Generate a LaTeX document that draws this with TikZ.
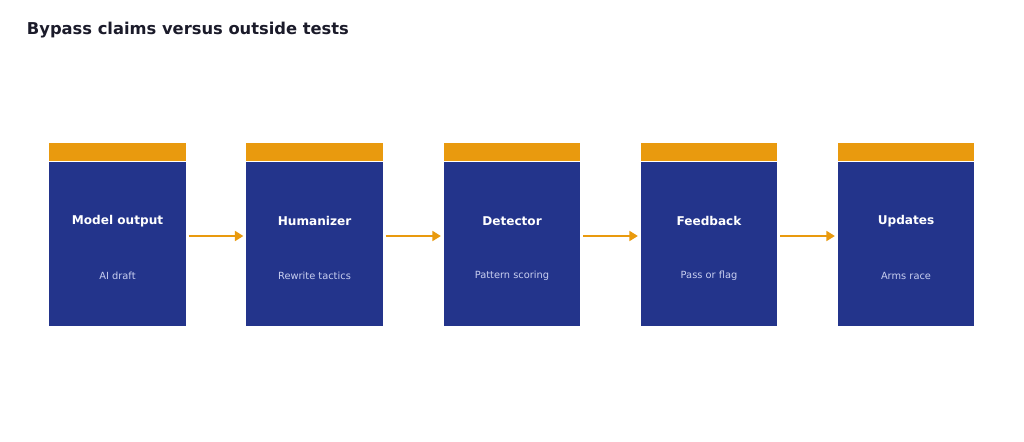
\documentclass[tikz,border=0pt]{standalone}
\usepackage{fontspec}
\setmainfont{DejaVu Sans}
\usetikzlibrary{positioning,arrows.meta}
\definecolor{stageblue}{HTML}{23348B}
\definecolor{stagecap}{HTML}{E99A0E}
\definecolor{titleink}{HTML}{1B1B2A}
\definecolor{subink}{HTML}{C9CFF0}
\tikzset{
  stage/.style={fill=stageblue,draw=none,minimum width=3.4cm,minimum height=4.1cm,inner sep=0pt},
  topband/.style={fill=stagecap,draw=none,minimum width=3.4cm,minimum height=0.45cm,inner sep=0pt},
  head/.style={text=white,font=\bfseries\fontsize{8.6}{10}\selectfont},
  sub/.style={text=subink,font=\fontsize{7}{8}\selectfont},
  flow/.style={draw=stagecap,line width=1.6pt,-{Triangle[length=6pt,width=7pt]}}
}
\begin{document}
\begin{tikzpicture}[x=0.025cm,y=-0.025cm]
\useasboundingbox (0,0) rectangle (1024,441);
\node[anchor=west,text=titleink,font=\bfseries\fontsize{11.6}{14}\selectfont] (title) at (22,30) {Bypass claims versus outside tests};
% stages
\foreach \name/\x/\head/\sub in {s1/117.5/Model output/AI draft,s2/314.5/Humanizer/Rewrite tactics,s3/512/Detector/Pattern scoring,s4/709/Feedback/Pass or flag,s5/906/Updates/Arms race}{
  \node[stage] (\name) at (\x,244) {};
  \node[topband,anchor=south] (\name band) at (\name.north) {};
  \node[head] (\name head) at (\x,221) {\head};
  \node[sub] (\name sub) at (\x,276) {\sub};
}
% connectors
\foreach \a/\b in {s1/s2,s2/s3,s3/s4,s4/s5}
  \draw[flow] ([xshift=2pt,yshift=0.2cm]\a.east) -- ([xshift=-2pt,yshift=0.2cm]\b.west);
\end{tikzpicture}
\end{document}
